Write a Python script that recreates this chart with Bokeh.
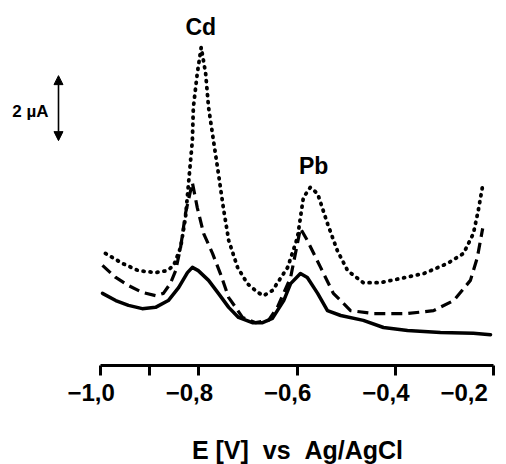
from bokeh.plotting import figure
from bokeh.models import Range1d, FixedTicker, CustomJSTickFormatter, Label, Arrow, NormalHead
from bokeh.embed import file_html
from bokeh.resources import INLINE

# ---- data (E in V vs Ag/AgCl, current in µA, arbitrary offset) ----
dotted_E = [-0.990, -0.955, -0.923, -0.888, -0.864, -0.851, -0.837, -0.827, -0.819, -0.813,
            -0.811, -0.803, -0.795, -0.786, -0.780, -0.770, -0.760, -0.750, -0.739, -0.721,
            -0.701, -0.680, -0.668, -0.650, -0.619, -0.599, -0.587, -0.573, -0.558, -0.538,
            -0.518, -0.497, -0.465, -0.430, -0.389, -0.342, -0.294, -0.261, -0.241, -0.231, -0.222]
dotted_I = [2.68, 2.37, 2.15, 2.09, 2.15, 2.31, 2.86, 3.78, 5.14, 6.15,
            7.17, 8.22, 9.02, 8.22, 7.17, 6.15, 5.14, 4.09, 3.08, 2.25,
            1.75, 1.48, 1.38, 1.54, 2.25, 3.17, 4.40, 4.71, 4.52, 3.60,
            2.77, 2.15, 1.78, 1.78, 1.91, 2.06, 2.37, 2.68, 3.29, 4.00, 4.77]

dashed_E = [-0.996, -0.969, -0.943, -0.915, -0.888, -0.872, -0.858, -0.847, -0.837, -0.827,
            -0.813, -0.803, -0.790, -0.772, -0.756, -0.739, -0.725, -0.711, -0.684, -0.658,
            -0.640, -0.613, -0.593, -0.579, -0.552, -0.526, -0.491, -0.444, -0.375, -0.322,
            -0.281, -0.247, -0.233, -0.222]
dashed_I = [2.31, 1.94, 1.69, 1.48, 1.38, 1.45, 1.75, 2.15, 2.86, 3.91,
            4.86, 4.09, 3.29, 2.68, 2.06, 1.32, 1.02, 0.71, 0.55, 0.62,
            1.02, 1.94, 3.45, 3.08, 2.25, 1.45, 0.92, 0.83, 0.83, 0.92,
            1.23, 1.85, 2.55, 3.45]

solid_E = [-0.996, -0.969, -0.943, -0.915, -0.888, -0.862, -0.841, -0.823, -0.813, -0.801,
           -0.780, -0.760, -0.739, -0.719, -0.691, -0.670, -0.650, -0.640, -0.627, -0.613,
           -0.593, -0.579, -0.558, -0.538, -0.511, -0.465, -0.424, -0.375, -0.308, -0.241, -0.206]
solid_I = [1.45, 1.23, 1.08, 0.98, 1.02, 1.23, 1.63, 2.09, 2.25, 2.15,
           1.85, 1.45, 1.02, 0.71, 0.55, 0.55, 0.68, 0.92, 1.23, 1.75,
           2.06, 1.94, 1.45, 0.92, 0.77, 0.62, 0.40, 0.31, 0.25, 0.22, 0.18]

tick_values = [-1.0, -0.9, -0.8, -0.6, -0.4, -0.2]
tick_labels = ["\u22121,0", "", "\u22120,8", "\u22120,6", "\u22120,4", "\u22120,2"]

peak_names = ["Cd", "Pb"]
peak_E = [-0.796, -0.566]
peak_label_I = [9.66, 5.38]

scale_bar_uA = 2.0
scale_bar_label = "2 \u00b5A"
x_title = "E [V]\u00a0\u00a0vs\u00a0\u00a0Ag/AgCl"

FONT = "Liberation Sans"
AXIS_Y = -0.769       # current level at which the E axis is drawn

p = figure(width=506, height=464, output_backend="svg", toolbar_location=None,
           x_range=Range1d(-1.20356, -0.17354), y_range=Range1d(-3.815, 10.462),
           y_axis_location=None, min_border_left=0, min_border_right=0,
           min_border_top=0, min_border_bottom=0)
p.outline_line_color = None
p.grid.visible = False
p.background_fill_color = "white"
p.border_fill_color = "white"

p.line(solid_E, solid_I, line_color="black", line_width=3.5, line_join="round", line_cap="round")
p.line(dashed_E, dashed_I, line_color="black", line_width=3.2, line_dash="11 6", line_join="round")
p.line(dotted_E, dotted_I, line_color="black", line_width=3.8, line_dash="1 6",
       line_cap="round", line_join="round")

ax = p.xaxis[0]
ax.fixed_location = AXIS_Y
ax.bounds = (tick_values[0], tick_values[-1])
ax.ticker = FixedTicker(ticks=tick_values, minor_ticks=[])
ax.formatter = CustomJSTickFormatter(args=dict(vals=tick_values, labs=tick_labels), code="""
const i = vals.findIndex(v => Math.abs(v - tick) < 1e-6);
return i >= 0 ? labs[i] + "\\u2002\\u00a0" : "";
""")
ax.axis_line_width = 3
ax.axis_line_color = "black"
ax.major_tick_line_width = 3
ax.major_tick_line_color = "black"
ax.major_tick_out = 10
ax.major_tick_in = 0
ax.minor_tick_line_color = None
ax.major_label_standoff = 3
ax.major_label_text_font = FONT
ax.major_label_text_font_style = "bold"
ax.major_label_text_font_size = "24px"
ax.major_label_text_color = "black"

# axis title
p.add_layout(Label(x=-0.599, y=-3.38, text=x_title,
                   text_align="center", text_baseline="alphabetic",
                   text_font=FONT, text_font_style="bold", text_font_size="25px",
                   text_color="black"))

for name, e, yl in zip(peak_names, peak_E, peak_label_I):
    p.add_layout(Label(x=e, y=yl, text=name, text_align="center", text_baseline="middle",
                       text_font=FONT, text_font_style="bold", text_font_size="23px",
                       text_color="black"))

bar_x = -1.0855
bar_y0 = 6.15
p.add_layout(Arrow(x_start=bar_x, y_start=bar_y0, x_end=bar_x, y_end=bar_y0 + scale_bar_uA,
                   line_width=1.6, line_color="black",
                   start=NormalHead(size=9, line_color="black", fill_color="black", line_width=1),
                   end=NormalHead(size=9, line_color="black", fill_color="black", line_width=1)))
p.add_layout(Label(x=-1.1425, y=bar_y0 + scale_bar_uA / 2 - 0.1, text=scale_bar_label,
                   text_align="center", text_baseline="middle",
                   text_font=FONT, text_font_style="bold", text_font_size="17px",
                   text_color="black"))

open("out.html", "w").write(file_html(p, INLINE))
